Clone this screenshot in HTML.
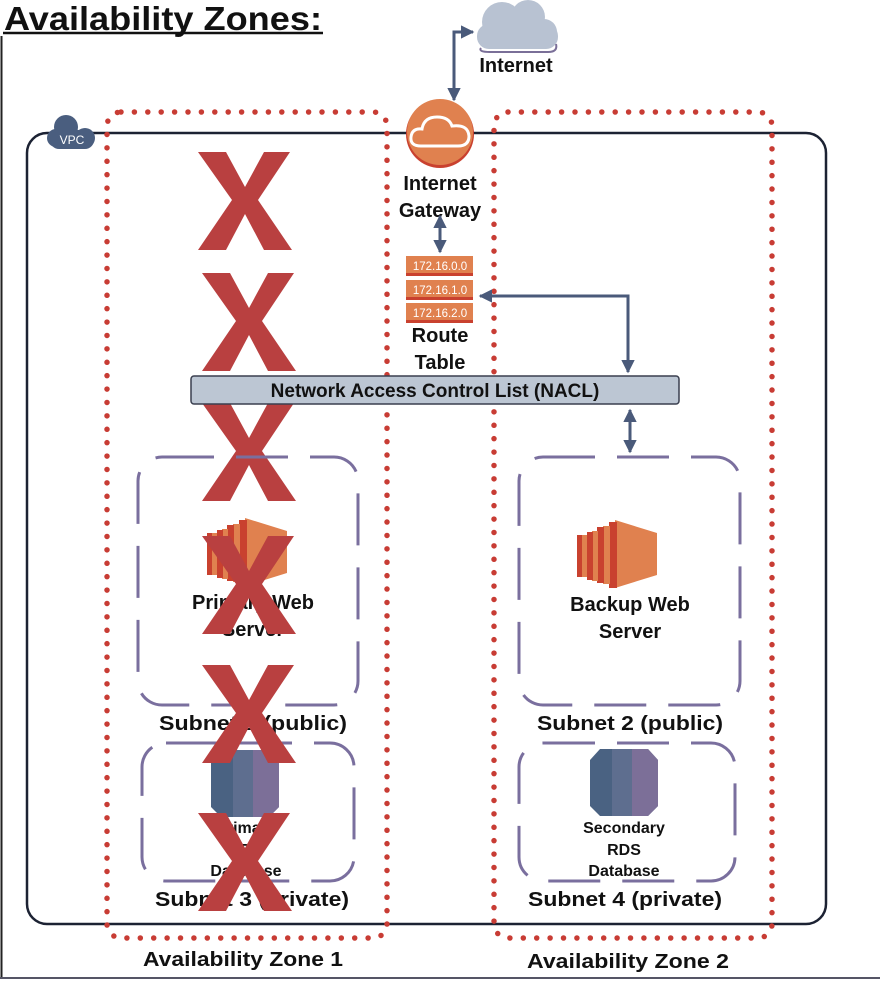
<!DOCTYPE html>
<html><head><meta charset="utf-8"><style>
html,body{margin:0;padding:0;background:#fff;}
svg{display:block;}
text{font-family:"Liberation Sans",Arial,sans-serif;font-weight:bold;fill:#111;}
</style></head><body>
<svg width="880" height="982" viewBox="0 0 880 982" xmlns="http://www.w3.org/2000/svg">
<defs>
<marker id="ah" viewBox="0 0 10 10" refX="9" refY="5" markerWidth="4.5" markerHeight="4.5" orient="auto-start-reverse">
<path d="M0,0 L10,5 L0,10 z" fill="#4a5a7a"/></marker>
</defs>
<!-- frame -->
<line x1="1.5" y1="36" x2="1.5" y2="978" stroke="#222" stroke-width="2"/>
<line x1="0" y1="978" x2="880" y2="978" stroke="#556" stroke-width="2"/>
<!-- title -->
<text x="4" y="30" font-size="33" textLength="318" lengthAdjust="spacingAndGlyphs">Availability Zones:</text>
<line x1="3" y1="33" x2="323" y2="33" stroke="#111" stroke-width="2.5"/>

<!-- VPC -->
<rect x="27" y="133" width="799" height="791" rx="20" fill="none" stroke="#1c2233" stroke-width="2.5"/>
<g fill="#4a5e7f">
<circle cx="66" cy="127" r="12"/><circle cx="56" cy="138" r="9"/><circle cx="85" cy="138" r="10"/>
<rect x="50" y="130" width="44" height="19" rx="9"/>
</g>
<text x="72" y="144" font-size="12" fill="#fff" style="fill:#fff;font-weight:normal" text-anchor="middle">VPC</text>

<!-- AZ dotted -->
<g fill="none" stroke="#c83c34" stroke-width="5.5" stroke-linecap="round" stroke-dasharray="0 13.4">
<rect x="107" y="112" width="280" height="826" rx="14"/>
<rect x="494" y="112" width="278" height="826" rx="14"/>
</g>

<!-- Internet cloud -->
<g fill="#b8c2d2">
<circle cx="502" cy="22" r="20"/><circle cx="528" cy="17" r="17"/><circle cx="544" cy="32" r="13"/>
<rect x="477" y="24" width="81" height="25" rx="12"/>
</g>
<path d="M481 48 Q478 52 490 52 L548 52 Q558 52 556 44" fill="none" stroke="#7a6f98" stroke-width="2"/>
<text x="516" y="72" font-size="20" text-anchor="middle">Internet</text>
<path d="M454 100 L454 32 L473 32" fill="none" stroke="#4a5a7a" stroke-width="3" marker-start="url(#ah)" marker-end="url(#ah)"/>

<!-- Gateway -->
<circle cx="440" cy="134" r="34" fill="#c9412f"/>
<circle cx="440" cy="132" r="33" fill="#e0814f"/>
<path d="M421 146 Q410 146 411 137 Q412 128 422 129 Q424 117 437 117 Q449 117 452 126 Q468 124 469 136 Q469 146 458 146 Z" fill="none" stroke="#fff" stroke-width="3"/>
<text x="440" y="190" font-size="20" text-anchor="middle">Internet</text>
<text x="440" y="217" font-size="20" text-anchor="middle">Gateway</text>
<line x1="440" y1="216" x2="440" y2="252" stroke="#4a5a7a" stroke-width="3" marker-start="url(#ah)" marker-end="url(#ah)"/>

<!-- Route table -->
<g>
<rect x="406" y="256" width="67" height="20" fill="#e0814f"/><rect x="406" y="273" width="67" height="3" fill="#c9412f"/>
<rect x="406" y="280" width="67" height="20" fill="#e0814f"/><rect x="406" y="297" width="67" height="3" fill="#c9412f"/>
<rect x="406" y="303" width="67" height="20" fill="#e0814f"/><rect x="406" y="320" width="67" height="3" fill="#c9412f"/>
</g>
<g font-size="11.5" text-anchor="middle" style="fill:#fff;font-weight:normal">
<text x="440" y="270" style="fill:#fff;font-weight:normal">172.16.0.0</text>
<text x="440" y="294" style="fill:#fff;font-weight:normal">172.16.1.0</text>
<text x="440" y="317" style="fill:#fff;font-weight:normal">172.16.2.0</text>
</g>
<text x="440" y="342" font-size="20" text-anchor="middle">Route</text>
<text x="440" y="369" font-size="20" text-anchor="middle">Table</text>
<path d="M480 296 L628 296 L628 372" fill="none" stroke="#4a5a7a" stroke-width="3" marker-start="url(#ah)" marker-end="url(#ah)"/>

<!-- X marks behind NACL -->
<g fill="#b94040">
<g id="x1">
<polygon points="198,152 226,152 245,187 264,152 290,152 258,200 292,250 264,250 245,214 226,250 198,250 232,200"/>
</g>
<use href="#x1" transform="translate(4,121)"/>
<use href="#x1" transform="translate(4,251)"/>
</g>

<!-- NACL -->
<rect x="191" y="376" width="488" height="28" rx="3" fill="#bcc6d3" stroke="#3a3f4f" stroke-width="1.5"/>
<text x="435" y="397" font-size="19" text-anchor="middle">Network Access Control List (NACL)</text>
<line x1="630" y1="410" x2="630" y2="452" stroke="#4a5a7a" stroke-width="3" marker-start="url(#ah)" marker-end="url(#ah)"/>

<!-- Subnets -->
<g fill="none" stroke="#7a6f9e" stroke-width="3" stroke-dasharray="52 22">
<rect x="138" y="457" width="220" height="248" rx="24"/>
<rect x="519" y="457" width="221" height="248" rx="24"/>
<rect x="142" y="743" width="212" height="138" rx="24"/>
<rect x="519" y="743" width="216" height="138" rx="24"/>
</g>

<!-- EC2 icons -->
<g id="ec2">
<polygon points="615,520 657,533 657,575 615,588" fill="#e0814f"/>
<rect x="609" y="522" width="8" height="66" fill="#c9412f"/>
<rect x="603" y="526" width="7" height="58" fill="#e0814f"/>
<rect x="597" y="527" width="7" height="56" fill="#c9412f"/>
<rect x="592" y="531" width="6" height="50" fill="#e0814f"/>
<rect x="587" y="532" width="6" height="48" fill="#c9412f"/>
<rect x="582" y="535" width="5" height="42" fill="#e0814f"/>
<rect x="577" y="535" width="5" height="42" fill="#c9412f"/>
</g>
<use href="#ec2" transform="translate(-370,-2)"/>

<!-- RDS icons -->
<g id="rds">
<polygon points="600,749 648,749 658,760 658,806 648,816 600,816 590,806 590,760" fill="#4a6282"/>
<rect x="612" y="749" width="20" height="67" fill="#5e6e8f"/>
<polygon points="632,749 648,749 658,760 658,806 648,816 632,816" fill="#7c6f98"/>
</g>
<use href="#rds" transform="translate(-379,1)"/>

<!-- texts -->
<text x="630" y="611" font-size="20" text-anchor="middle">Backup Web</text>
<text x="630" y="638" font-size="20" text-anchor="middle">Server</text>
<text x="253" y="609" font-size="20" text-anchor="middle">Primary Web</text>
<text x="253" y="636" font-size="20" text-anchor="middle">Server</text>
<text x="624" y="833" font-size="16" text-anchor="middle">Secondary</text>
<text x="624" y="855" font-size="16" text-anchor="middle">RDS</text>
<text x="624" y="876" font-size="16" text-anchor="middle">Database</text>
<text x="246" y="833" font-size="16" text-anchor="middle">Primary</text>
<text x="246" y="855" font-size="16" text-anchor="middle">RDS</text>
<text x="246" y="876" font-size="16" text-anchor="middle">Database</text>
<text x="253" y="730" font-size="20" text-anchor="middle" textLength="188" lengthAdjust="spacingAndGlyphs">Subnet 1 (public)</text>
<text x="630" y="730" font-size="20" text-anchor="middle" textLength="186" lengthAdjust="spacingAndGlyphs">Subnet 2 (public)</text>
<text x="252" y="906" font-size="20" text-anchor="middle" textLength="194" lengthAdjust="spacingAndGlyphs">Subnet 3 (private)</text>
<text x="625" y="906" font-size="20" text-anchor="middle" textLength="194" lengthAdjust="spacingAndGlyphs">Subnet 4 (private)</text>
<text x="243" y="966" font-size="20" text-anchor="middle" textLength="200" lengthAdjust="spacingAndGlyphs">Availability Zone 1</text>
<text x="628" y="968" font-size="20" text-anchor="middle" textLength="202" lengthAdjust="spacingAndGlyphs">Availability Zone 2</text>

<!-- X marks on top -->
<g fill="#b94040">
<use href="#x1" transform="translate(4,384)"/>
<use href="#x1" transform="translate(4,513)"/>
<use href="#x1" transform="translate(0,661)"/>
</g>
</svg>
</body></html>
